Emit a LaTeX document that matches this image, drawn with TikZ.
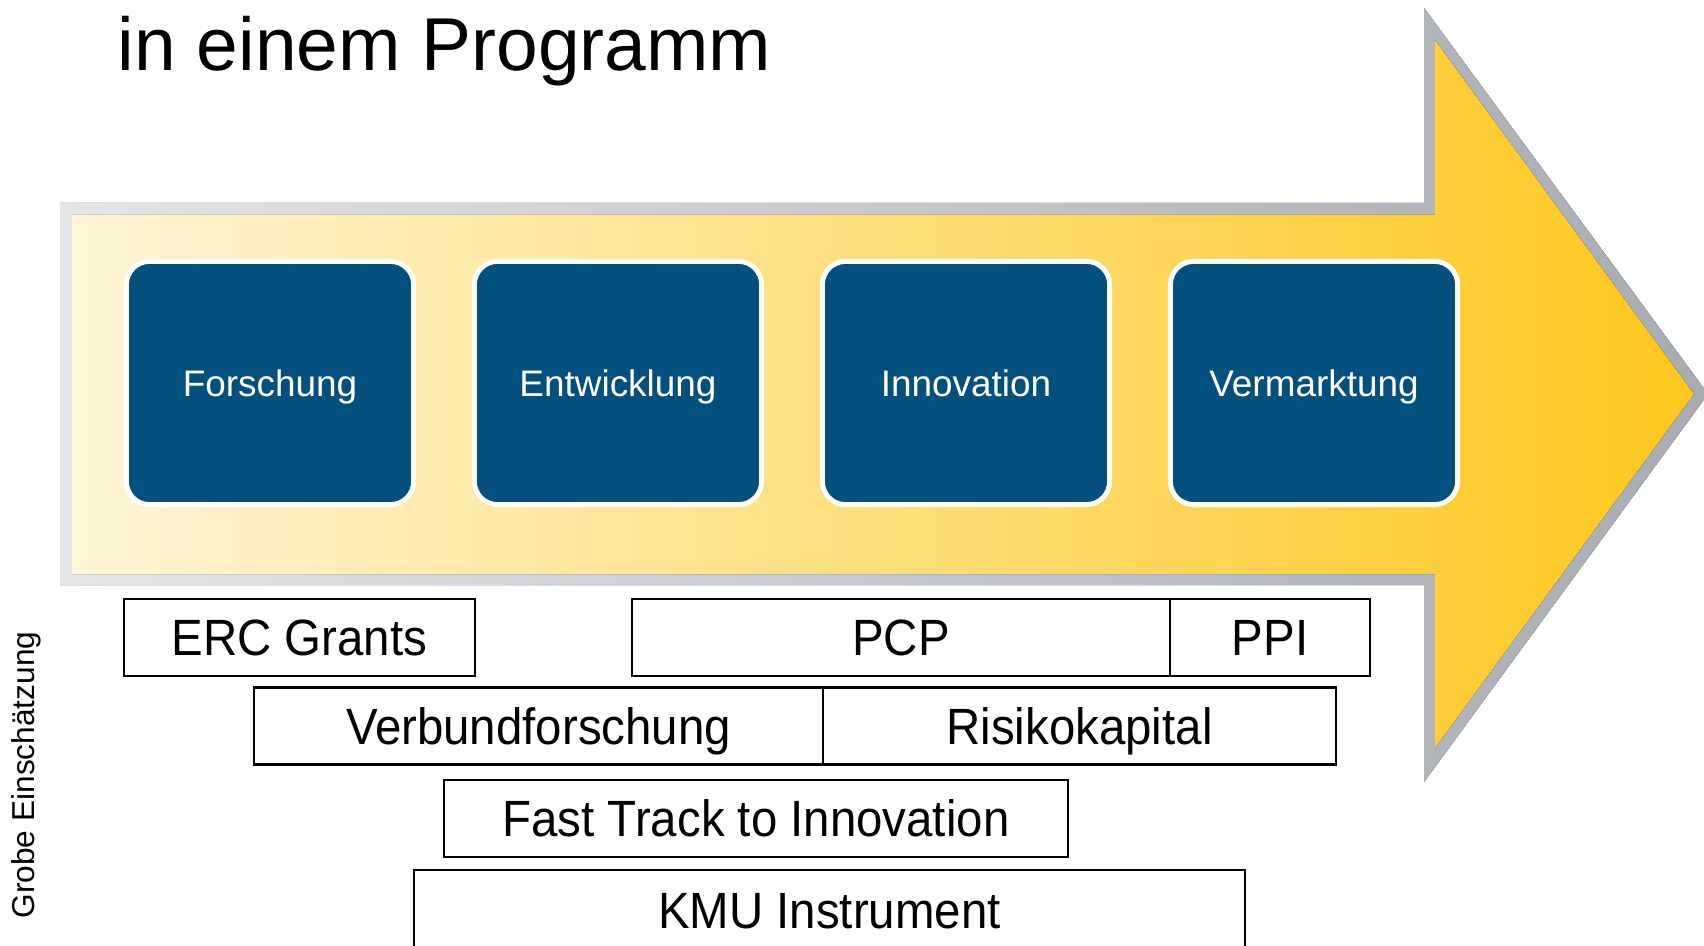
\documentclass[tikz,border=0pt]{standalone}
\usepackage{fontspec}
\setmainfont{Liberation Sans}
\newfontfamily\narrowfont[FakeStretch=0.93]{Liberation Sans}
\definecolor{phaseblue}{HTML}{03507F}
\definecolor{arrowpale}{HTML}{FEF5D6}
\definecolor{arrowgold}{HTML}{FDC71E}
\definecolor{rimpale}{HTML}{E3E5E8}
\definecolor{rimdark}{HTML}{A7ACB2}

\begin{document}
\begin{tikzpicture}[x=0.01cm,y=-0.01cm,
    phase/.style={draw=white,line width=1.4pt,fill=phaseblue,rounded corners=0.23cm,
      minimum width=2.87cm,minimum height=2.43cm,inner sep=0pt,text=white,
      font=\fontsize{10.5}{12}\selectfont,text height=7.5pt,text depth=0pt},
    prog/.style={draw=black,line width=0.7pt,fill=white,inner sep=0pt,minimum height=0.77cm,
      font=\narrowfont\fontsize{14.5}{17}\selectfont,text height=10.4pt,text depth=0pt}]
  \useasboundingbox (0,0) rectangle (1704,946);
  % big arrow: grey rim, then yellow body
  \fill[left color=rimpale,right color=rimdark] (60,203) -- (1424,203) -- (1424,8) -- (1708,394)
    -- (1424,782) -- (1424,585) -- (60,585) -- cycle;
  \fill[left color=arrowpale,right color=arrowgold] (72,215) -- (1435,215) -- (1435,40) -- (1694,394)
    -- (1435,748) -- (1435,574) -- (72,574) -- cycle;
  \foreach \name/\txt [count=\i from 0] in {forschung/Forschung,entwicklung/Entwicklung,
      innovation/Innovation,vermarktung/Vermarktung}
    \node[phase] (\name) at (270+348*\i,383) {\txt};
  \node[anchor=base west,inner sep=0pt,font=\fontsize{21.3}{25}\selectfont] (title) at (117,71) {in einem Programm};
  % programmes
  \node[prog,minimum width=3.51cm] (erc) at (299.5,637.5) {ERC Grants};
  \node[prog,minimum width=5.38cm] (pcp) at (901,637.5) {PCP};
  \node[prog,minimum width=2cm] (ppi) at (1270,637.5) {PPI};
  \node[prog,minimum width=5.69cm] (verbund) at (538.5,726) {Verbundforschung};
  \node[prog,minimum width=5.13cm] (risiko) at (1079.5,726) {Risikokapital};
  \node[prog,minimum width=6.24cm] (fasttrack) at (756,818.5) {Fast Track to Innovation};
  \node[prog,minimum width=8.31cm,minimum height=0.8cm] (kmu) at (829.5,910) {KMU Instrument};
  \node[rotate=90,font=\fontsize{9}{11}\selectfont] (note) at (26,775) {Grobe Einschätzung};
\end{tikzpicture}
\end{document}
